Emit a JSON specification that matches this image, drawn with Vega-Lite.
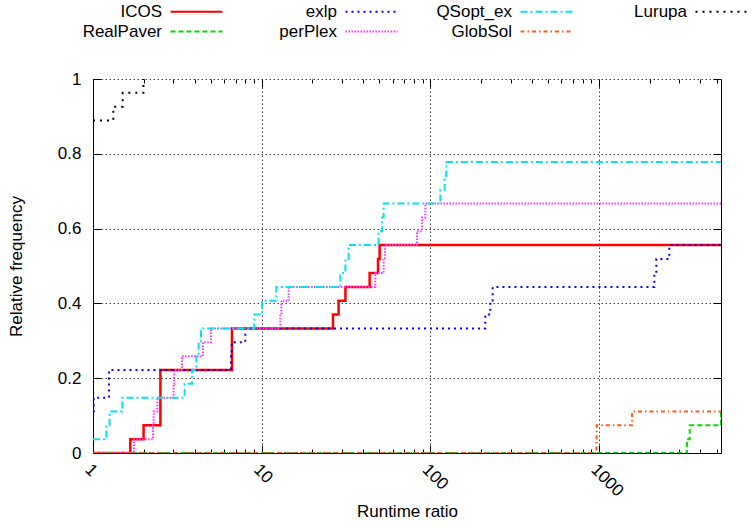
{
  "$schema": "https://vega.github.io/schema/vega-lite/v6.json",
  "width": 628,
  "height": 374,
  "autosize": {"type": "none"},
  "padding": {"left": 93, "top": 79, "right": 30, "bottom": 75},
  "background": "white",
  "config": {
    "view": {"stroke": null},
    "font": "Liberation Sans",
    "axis": {
      "labelFont": "Liberation Sans",
      "labelFontSize": 17,
      "labelColor": "#000",
      "titleFont": "Liberation Sans",
      "titleFontSize": 17,
      "titleFontWeight": "normal",
      "titleColor": "#000",
      "domainColor": "#000",
      "domainWidth": 1,
      "tickColor": "#000",
      "tickWidth": 1,
      "gridColor": "#444",
      "gridDash": [1.5, 2.5],
      "gridWidth": 1
    },
    "legend": {
      "orient": "none",
      "legendX": 95,
      "legendY": -76,
      "columns": 4,
      "direction": "horizontal",
      "gridAlign": "all",
      "labelFont": "Liberation Sans",
      "labelFontSize": 17,
      "labelColor": "#000",
      "labelAlign": "right",
      "labelOffset": -43,
      "symbolType": "M-5.2,0H5.2",
      "symbolSize": 100,
      "symbolStrokeWidth": 2,
      "columnPadding": 34,
      "rowPadding": 2,
      "labelLimit": 200
    }
  },
  "data": {
    "values": [
      {"s": "ICOS", "x": 1, "y": 0},
      {"s": "ICOS", "x": 1.664, "y": 0.037},
      {"s": "ICOS", "x": 1.995, "y": 0.074},
      {"s": "ICOS", "x": 2.51, "y": 0.222},
      {"s": "ICOS", "x": 6.67, "y": 0.333},
      {"s": "ICOS", "x": 26.5, "y": 0.370},
      {"s": "ICOS", "x": 28.6, "y": 0.407},
      {"s": "ICOS", "x": 31.4, "y": 0.444},
      {"s": "ICOS", "x": 43.7, "y": 0.481},
      {"s": "ICOS", "x": 49.0, "y": 0.519},
      {"s": "ICOS", "x": 50.1, "y": 0.556},
      {"s": "ICOS", "x": 5300, "y": 0.556},

      {"s": "RealPaver", "x": 1, "y": 0},
      {"s": "RealPaver", "x": 3336, "y": 0.037},
      {"s": "RealPaver", "x": 3457, "y": 0.074},
      {"s": "RealPaver", "x": 5300, "y": 0.111},

      {"s": "exlp", "x": 1, "y": 0.111},
      {"s": "exlp", "x": 1.01, "y": 0.148},
      {"s": "exlp", "x": 1.244, "y": 0.222},
      {"s": "exlp", "x": 6.58, "y": 0.259},
      {"s": "exlp", "x": 6.65, "y": 0.296},
      {"s": "exlp", "x": 8.0, "y": 0.333},
      {"s": "exlp", "x": 212, "y": 0.370},
      {"s": "exlp", "x": 227, "y": 0.407},
      {"s": "exlp", "x": 234.5, "y": 0.444},
      {"s": "exlp", "x": 2133, "y": 0.481},
      {"s": "exlp", "x": 2193, "y": 0.519},
      {"s": "exlp", "x": 2617, "y": 0.556},
      {"s": "exlp", "x": 5300, "y": 0.556},

      {"s": "perPlex", "x": 1, "y": 0},
      {"s": "perPlex", "x": 1.751, "y": 0.037},
      {"s": "perPlex", "x": 2.27, "y": 0.074},
      {"s": "perPlex", "x": 2.29, "y": 0.111},
      {"s": "perPlex", "x": 2.407, "y": 0.148},
      {"s": "perPlex", "x": 3.006, "y": 0.185},
      {"s": "perPlex", "x": 3.03, "y": 0.222},
      {"s": "perPlex", "x": 3.372, "y": 0.259},
      {"s": "perPlex", "x": 4.49, "y": 0.296},
      {"s": "perPlex", "x": 5.01, "y": 0.333},
      {"s": "perPlex", "x": 12.91, "y": 0.370},
      {"s": "perPlex", "x": 13.09, "y": 0.407},
      {"s": "perPlex", "x": 14.46, "y": 0.444},
      {"s": "perPlex", "x": 47.2, "y": 0.481},
      {"s": "perPlex", "x": 52.9, "y": 0.519},
      {"s": "perPlex", "x": 53.8, "y": 0.556},
      {"s": "perPlex", "x": 83.5, "y": 0.593},
      {"s": "perPlex", "x": 89.4, "y": 0.630},
      {"s": "perPlex", "x": 93.5, "y": 0.667},
      {"s": "perPlex", "x": 5300, "y": 0.667},

      {"s": "QSopt_ex", "x": 1, "y": 0.037},
      {"s": "QSopt_ex", "x": 1.199, "y": 0.074},
      {"s": "QSopt_ex", "x": 1.254, "y": 0.111},
      {"s": "QSopt_ex", "x": 1.492, "y": 0.148},
      {"s": "QSopt_ex", "x": 3.494, "y": 0.185},
      {"s": "QSopt_ex", "x": 3.866, "y": 0.222},
      {"s": "QSopt_ex", "x": 4.10, "y": 0.259},
      {"s": "QSopt_ex", "x": 4.23, "y": 0.296},
      {"s": "QSopt_ex", "x": 4.37, "y": 0.333},
      {"s": "QSopt_ex", "x": 9.05, "y": 0.370},
      {"s": "QSopt_ex", "x": 10.06, "y": 0.407},
      {"s": "QSopt_ex", "x": 12.22, "y": 0.444},
      {"s": "QSopt_ex", "x": 29.3, "y": 0.481},
      {"s": "QSopt_ex", "x": 31.4, "y": 0.519},
      {"s": "QSopt_ex", "x": 32.8, "y": 0.556},
      {"s": "QSopt_ex", "x": 49.4, "y": 0.593},
      {"s": "QSopt_ex", "x": 51.8, "y": 0.630},
      {"s": "QSopt_ex", "x": 52.9, "y": 0.667},
      {"s": "QSopt_ex", "x": 114.8, "y": 0.704},
      {"s": "QSopt_ex", "x": 121.7, "y": 0.741},
      {"s": "QSopt_ex", "x": 124.6, "y": 0.778},
      {"s": "QSopt_ex", "x": 5300, "y": 0.778},

      {"s": "GlobSol", "x": 1, "y": 0},
      {"s": "GlobSol", "x": 967, "y": 0.037},
      {"s": "GlobSol", "x": 970, "y": 0.074},
      {"s": "GlobSol", "x": 1574, "y": 0.111},
      {"s": "GlobSol", "x": 5300, "y": 0.111},

      {"s": "Lurupa", "x": 1, "y": 0.889},
      {"s": "Lurupa", "x": 1.32, "y": 0.926},
      {"s": "Lurupa", "x": 1.50, "y": 0.963},
      {"s": "Lurupa", "x": 1.99, "y": 1.0}
    ]
  },
  "layer": [
    {
      "mark": {"type": "line", "interpolate": "step-after", "clip": true},
      "encoding": {
        "x": {
          "field": "x",
          "type": "quantitative",
          "scale": {"type": "log", "domain": [1, 5300], "nice": false},
          "axis": {
            "orient": "bottom",
            "title": "Runtime ratio",
            "titlePadding": 4,
            "values": [1, 2, 3, 4, 5, 6, 7, 8, 9, 10, 20, 30, 40, 50, 60, 70, 80, 90, 100, 200, 300, 400, 500, 600, 700, 800, 900, 1000, 2000, 3000, 4000, 5000],
            "labelExpr": "(datum.value == 1 || datum.value == 10 || datum.value == 100 || datum.value == 1000) ? ('' + datum.value) : ''",
            "labelAngle": 45,
            "labelAlign": "left",
            "labelBaseline": "top",
            "labelPadding": 16,
            "labelOverlap": false,
            "labelFlush": false,
            "tickSize": {"condition": {"test": "datum.value == 1 || datum.value == 10 || datum.value == 100 || datum.value == 1000", "value": -8}, "value": -4},
            "grid": true,
            "gridOpacity": {"condition": {"test": "datum.value == 10 || datum.value == 100 || datum.value == 1000", "value": 1}, "value": 0}
          }
        },
        "y": {
          "field": "y",
          "type": "quantitative",
          "scale": {"domain": [0, 1], "nice": false},
          "axis": {
            "orient": "left",
            "title": "Relative frequency",
            "titlePadding": 32,
            "values": [0, 0.2, 0.4, 0.6, 0.8, 1],
            "format": ".1~f",
            "labelPadding": 20,
            "tickSize": -8,
            "grid": true,
            "gridOpacity": {"condition": {"test": "datum.value > 0", "value": 1}, "value": 0}
          }
        },
        "color": {
          "field": "s",
          "type": "nominal",
          "scale": {
            "domain": ["ICOS", "exlp", "QSopt_ex", "Lurupa", "RealPaver", "perPlex", "GlobSol"],
            "range": ["#ff0000", "#0000ff", "#00e5ee", "#000000", "#00dd00", "#ff33ff", "#ff5a1a"]
          },
          "legend": {"title": null}
        },
        "strokeDash": {
          "field": "s",
          "type": "nominal",
          "scale": {
            "domain": ["ICOS", "exlp", "QSopt_ex", "Lurupa", "RealPaver", "perPlex", "GlobSol"],
            "range": [[1, 0], [2, 4], [7, 3, 2, 3], [2, 5], [5, 3], [1.5, 1.5], [4, 3, 1.5, 3]]
          },
          "legend": {"title": null}
        },
        "strokeWidth": {"condition": {"test": "datum.s === 'ICOS'", "value": 2.5}, "value": 2}
      }
    },
    {
      "mark": {"type": "line", "opacity": 0},
      "encoding": {
        "x": {
          "field": "x",
          "type": "quantitative",
          "axis": {
            "orient": "top",
            "title": null,
            "values": [1, 2, 3, 4, 5, 6, 7, 8, 9, 10, 20, 30, 40, 50, 60, 70, 80, 90, 100, 200, 300, 400, 500, 600, 700, 800, 900, 1000, 2000, 3000, 4000, 5000],
            "labels": false,
            "domain": false,
            "grid": false,
            "tickSize": {"condition": {"test": "datum.value == 1 || datum.value == 10 || datum.value == 100 || datum.value == 1000", "value": -8}, "value": -4}
          }
        },
        "y": {
          "field": "y",
          "type": "quantitative",
          "axis": {
            "orient": "right",
            "title": null,
            "values": [0, 0.2, 0.4, 0.6, 0.8, 1],
            "labels": false,
            "grid": false,
            "tickSize": -8
          }
        }
      }
    }
  ],
  "resolve": {"axis": {"x": "independent", "y": "independent"}}
}
